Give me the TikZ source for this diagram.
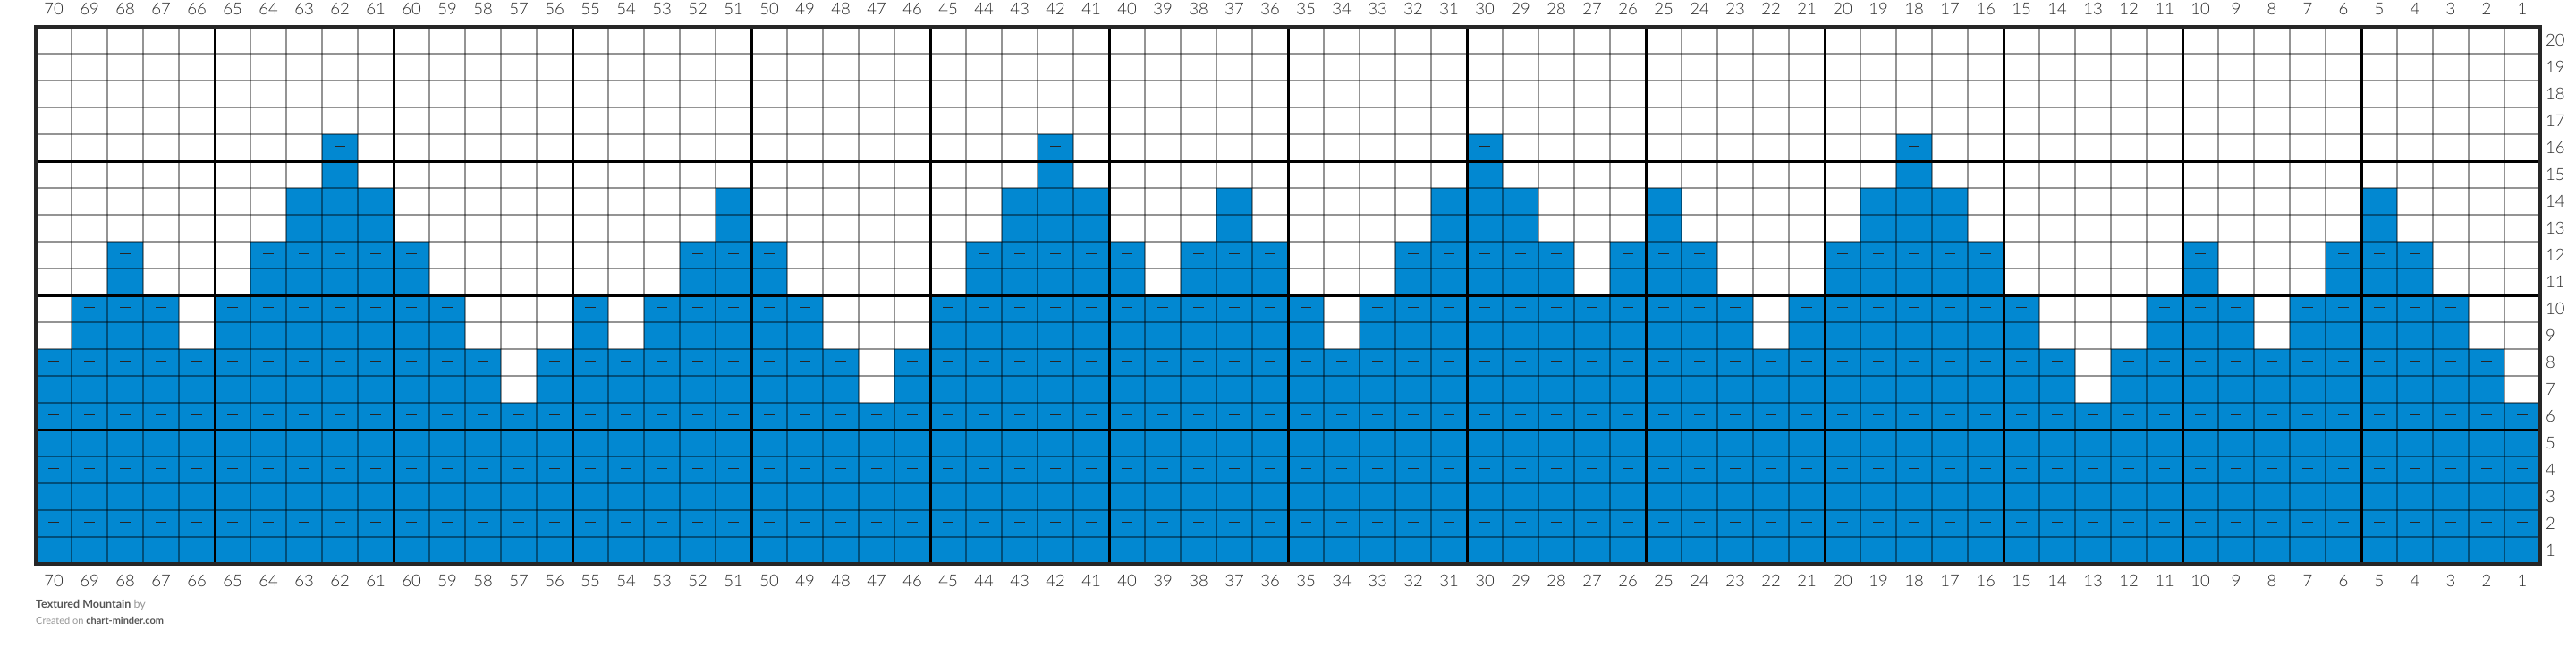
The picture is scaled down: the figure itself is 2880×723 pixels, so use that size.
\documentclass[tikz,border=0pt]{standalone}
\usepackage{fontspec}
\setmainfont{Lato}
\newfontfamily\latolight{Lato Light}
\definecolor{knitblue}{RGB}{2,136,209}
\definecolor{labelgray}{RGB}{40,40,40}
\definecolor{titlegray}{RGB}{85,85,85}
\definecolor{softgray}{RGB}{150,150,150}
\begin{document}
\begin{tikzpicture}[x=1pt,y=-1pt,
  gridline/.style={line width=2pt, black, opacity=0.42},
  thickline/.style={line width=3pt, black},
  border/.style={line width=4pt, black!85},
  purl/.style={line width=1.6pt, black!85},
  numlabel/.style={font=\latolight\fontsize{18.5}{20}\selectfont, text=labelgray, inner sep=0pt},
  footer/.style={inner sep=0pt, anchor=base west},
]
\useasboundingbox (0,0) rectangle (2880,723);
\fill[white] (0,0) rectangle (2880,723);
% filled stitches, column 70 (left) to column 1 (right)
\foreach \h [count=\i from 0] in {8,10,12,10,8, 10,12,14,16,14, 12,10,8,6,8, 10,8,10,12,14, 12,10,8,6,8, 10,12,14,16,14, 12,10,12,14,12, 10,8,10,12,14, 16,14,12,10,12, 14,12,10,8,10, 12,14,16,14,12, 10,8,6,8,10, 12,10,8,10,12, 14,12,10,8,6}{
  \pgfmathsetmacro\xa{40+40*\i}
  \pgfmathsetmacro\ya{630-30*\h}
  \fill[knitblue] (\xa,\ya) rectangle (\xa+40,630);
  \foreach \r in {2,4,...,\h}{
    \draw[purl] (\xa+14,643.5-30*\r) -- (\xa+26,643.5-30*\r);
  }
}
% thin grid
\foreach \k in {1,...,69}{
  \draw[gridline] (40+40*\k,30) -- (40+40*\k,630);
}
\foreach \k in {1,...,19}{
  \draw[gridline] (40,30+30*\k) -- (2840,30+30*\k);
}
% thick grid every 5 stitches / rows
\foreach \k in {1,...,13}{
  \draw[thickline] (40+200*\k,30) -- (40+200*\k,630);
}
\foreach \k in {1,2,3}{
  \draw[thickline] (40,630-150*\k) -- (2840,630-150*\k);
}
\draw[border] (40,30) rectangle (2840,630);
% column numbers
\foreach \i in {0,...,69}{
  \pgfmathtruncatemacro\n{70-\i}
  \node[numlabel] (ct\n) at (60+40*\i,10) {\n};
  \node[numlabel] (cb\n) at (60+40*\i,649) {\n};
}
% row numbers
\foreach \r in {1,...,20}{
  \node[numlabel, anchor=west] (rw\r) at (2846,645-30*\r) {\r};
}
% footer
\node[footer, font=\fontsize{12.5}{14}\selectfont] (title) at (40,679)
  {\textcolor{titlegray}{\bfseries Textured Mountain} \textcolor{softgray}{by}};
\node[footer, font=\fontsize{11}{13}\selectfont] (credit) at (40,697)
  {\textcolor{softgray}{Created on} \textcolor{titlegray}{\bfseries chart-minder.com}};
\end{tikzpicture}
\end{document}
